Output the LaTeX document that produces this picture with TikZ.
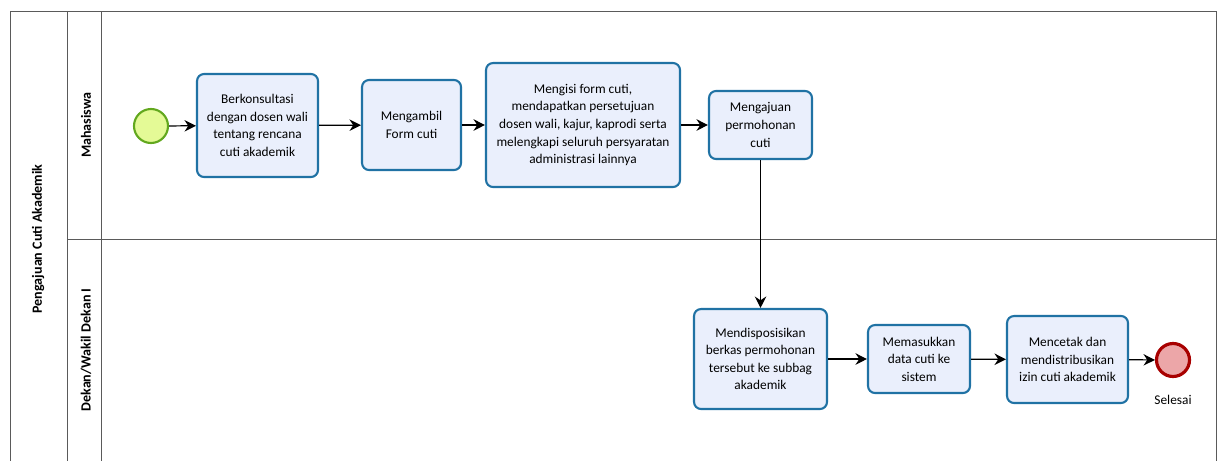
\documentclass[tikz,border=0pt]{standalone}
\usepackage{fontspec}
\setmainfont{Carlito}
\usetikzlibrary{arrows.meta, positioning}
\definecolor{taskfill}{RGB}{234,239,252}
\definecolor{taskdraw}{RGB}{32,114,164}
\definecolor{startfill}{RGB}{228,250,150}
\definecolor{startdraw}{RGB}{98,168,30}
\definecolor{endfill}{RGB}{236,166,168}
\definecolor{enddraw}{RGB}{168,0,0}
\definecolor{lanegray}{RGB}{90,90,90}
\tikzset{
  task/.style={rectangle, draw=taskdraw, fill=taskfill, line width=1.2pt,
    rounded corners=4pt, align=center, inner sep=2pt,
    font=\fontsize{7.6}{10}\selectfont},
  startev/.style={circle, draw=startdraw, fill=startfill, line width=1.2pt,
    minimum size=0.68cm, inner sep=0pt},
  endev/.style={circle, draw=enddraw, fill=endfill, line width=1.8pt,
    minimum size=0.66cm, inner sep=0pt},
  lanelabel/.style={rotate=90, font=\fontsize{8}{10}\selectfont\bfseries},
  flow/.style={-{Stealth[length=6.5pt,width=6.5pt]}, line width=0.7pt, color=black},
  laneline/.style={draw=lanegray, line width=0.5pt}
}
\begin{document}
\begin{tikzpicture}[x=0.02cm, y=-0.02cm]
  \useasboundingbox (0,0) rectangle (1219,460);
  \clip (0,0) rectangle (1219,460);
  % pool and lanes
  \draw[laneline] (10,11) rectangle (1216,480);
  \draw[laneline] (67,11) -- (67,480);
  \draw[laneline] (101,11) -- (101,480);
  \draw[laneline] (67,239) -- (1216,239);
  \node[lanelabel] (pool) at (38,239) {Pengajuan Cuti Akademik};
  \node[lanelabel] (lanemhs) at (86,125) {Mahasiswa};
  \node[lanelabel] (lanedekan) at (86,350) {Dekan/Wakil Dekan I};
  % lane Mahasiswa
  \node[startev] (start) at (151,126) {};
  \node[task, minimum width=2.42cm, minimum height=2.06cm] (konsul) at (257.5,125.5)
    {Berkonsultasi\\dengan dosen wali\\tentang rencana\\cuti akademik};
  \node[task, minimum width=1.98cm, minimum height=1.8cm] (ambil) at (411.5,125)
    {Mengambil\\Form cuti};
  \node[task, minimum width=3.88cm, minimum height=2.48cm] (isi) at (583,125)
    {Mengisi form cuti,\\mendapatkan persetujuan\\dosen wali, kajur, kaprodi serta\\melengkapi seluruh persyaratan\\administrasi lainnya};
  \node[task, minimum width=2.06cm, minimum height=1.36cm] (ajukan) at (760.5,125)
    {Mengajuan\\permohonan\\cuti};
  % lane Dekan
  \node[task, minimum width=2.66cm, minimum height=2.0cm] (disposisi) at (760.5,359)
    {Mendisposisikan\\berkas permohonan\\tersebut ke subbag\\akademik};
  \node[task, minimum width=2.04cm, minimum height=1.36cm] (input) at (919,359)
    {Memasukkan\\data cuti ke\\sistem};
  \node[task, minimum width=2.42cm, minimum height=1.74cm] (cetak) at (1067.5,359.5)
    {Mencetak dan\\mendistribusikan\\izin cuti akademik};
  \node[endev] (selesai) at (1173,360) {};
  \node[below=6pt of selesai, font=\fontsize{7.6}{10}\selectfont] (selesailbl) {Selesai};
  % flows
  \draw[flow] (start) -- (konsul);
  \draw[flow] (konsul) -- (ambil);
  \draw[flow] (ambil) -- (isi);
  \draw[flow] (isi) -- (ajukan);
  \draw[flow] (ajukan) -- (disposisi);
  \draw[flow] (disposisi) -- (input);
  \draw[flow] (input) -- (cetak);
  \draw[flow] (cetak) -- (selesai);
\end{tikzpicture}
\end{document}
